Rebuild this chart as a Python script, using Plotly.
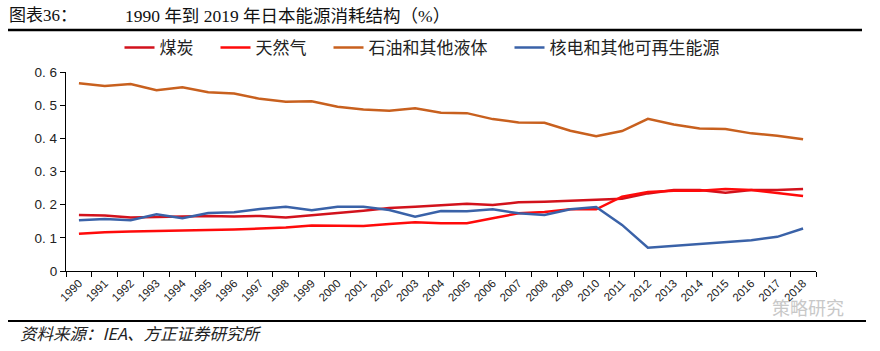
import plotly.graph_objects as go

years = [str(y) for y in range(1990, 2019)]

coal = [0.169, 0.167, 0.161, 0.162, 0.163, 0.166, 0.164, 0.166, 0.161, 0.167,
        0.175, 0.182, 0.190, 0.194, 0.198, 0.203, 0.199, 0.207, 0.209, 0.211,
        0.215, 0.218, 0.234, 0.244, 0.244, 0.236, 0.244, 0.244, 0.247]
gas = [0.112, 0.117, 0.119, 0.120, 0.121, 0.122, 0.125, 0.128, 0.131, 0.137,
       0.136, 0.136, 0.142, 0.147, 0.144, 0.144, 0.159, 0.174, 0.178, 0.186,
       0.186, 0.224, 0.238, 0.242, 0.242, 0.247, 0.244, 0.235, 0.226]
oil = [0.566, 0.558, 0.564, 0.545, 0.554, 0.539, 0.535, 0.519, 0.510, 0.512,
       0.495, 0.487, 0.483, 0.491, 0.477, 0.476, 0.458, 0.448, 0.447, 0.423,
       0.406, 0.422, 0.459, 0.442, 0.430, 0.428, 0.415, 0.408, 0.397]
nuclear = [0.153, 0.157, 0.153, 0.171, 0.159, 0.175, 0.177, 0.187, 0.194, 0.183,
           0.194, 0.194, 0.184, 0.164, 0.181, 0.180, 0.186, 0.174, 0.169, 0.186,
           0.193, 0.139, 0.070, 0.076, 0.081, 0.089, 0.093, 0.103, 0.128]

series_names = ["煤炭", "天然气", "石油和其他液体", "核电和其他可再生能源"]
series_values = [coal, gas, oil, nuclear]
series_colors = ["#D2121C", "#FF0A0A", "#C8601E", "#3A62A8"]

y_tickvals = [0, 0.1, 0.2, 0.3, 0.4, 0.5, 0.6]
y_ticktext = ["0", "0.\u00a01", "0.\u00a02", "0.\u00a03", "0.\u00a04", "0.\u00a05", "0.\u00a06"]

title_left = "图表36："
title_main = "1990 年到 2019 年日本能源消耗结构（%）"
source_text = "资料来源：IEA、方正证券研究所"

serif = "Liberation Serif, Noto Sans CJK SC, serif"
cjk = "Noto Sans CJK SC, sans-serif"

W, H = 880, 351
L, R, T, B = 66, 64, 72, 80
PW, PH = W - L - R, H - T - B


def px(x):
    return (x - L) / PW


def py(y):
    return (H - B - y) / PH


fig = go.Figure()
for i, (name, vals, col) in enumerate(zip(series_names, series_values, series_colors)):
    label = name + ("\u3000" if i < len(series_names) - 1 else "")
    fig.add_trace(go.Scatter(x=years, y=vals, name=label, mode="lines",
                             line=dict(color=col, width=2.5)))

fig.update_layout(
    width=W, height=H,
    margin=dict(l=L, r=R, t=T, b=B, autoexpand=False),
    paper_bgcolor="white", plot_bgcolor="white",
    showlegend=True,
    legend=dict(orientation="h", x=px(422), xanchor="center", y=py(48),
                yanchor="middle", font=dict(family=serif, size=17, color="#222"),
                bgcolor="rgba(0,0,0,0)", itemwidth=30, tracegroupgap=0),
    xaxis=dict(type="category", showline=True, linecolor="black", linewidth=1.3,
               ticks="outside", tickson="boundaries", ticklen=5, tickcolor="black",
               tickwidth=1.3, tickangle=-45, showgrid=False,
               tickfont=dict(family="Liberation Sans, Arial, sans-serif", size=11.5, color="#222"),
               range=[-0.5, 28.5]),
    yaxis=dict(range=[0, 0.6], tickvals=y_tickvals, ticktext=y_ticktext,
               showline=True, linecolor="black", linewidth=1.3, ticks="outside",
               ticklen=5, tickcolor="black", tickwidth=1.3, showgrid=False,
               zeroline=False,
               tickfont=dict(family="Liberation Sans, Arial, sans-serif", size=13.5, color="#222")),
)

fig.add_annotation(text=title_left, xref="paper", yref="paper", x=px(7), y=py(16),
                   xanchor="left", yanchor="middle", showarrow=False,
                   font=dict(family=serif, size=17, color="#111"))
fig.add_annotation(text=title_main, xref="paper", yref="paper", x=px(123), y=py(16),
                   xanchor="left", yanchor="middle", showarrow=False,
                   font=dict(family=serif, size=17.5, color="#111"))
fig.add_annotation(text="<i>" + source_text + "</i>", xref="paper", yref="paper", x=px(18), y=py(333),
                   xanchor="left", yanchor="middle", showarrow=False,
                   font=dict(family=cjk, size=16.5, color="#222"))
fig.add_annotation(text="策略研究", xref="paper", yref="paper", x=px(808), y=py(307),
                   xanchor="center", yanchor="middle", showarrow=False,
                   font=dict(family=cjk, size=18, color="#C8C8C8"))

fig.add_shape(type="line", xref="paper", yref="paper", x0=px(8), x1=px(862),
              y0=py(30), y1=py(30), line=dict(color="black", width=2.5))
fig.add_shape(type="line", xref="paper", yref="paper", x0=px(8), x1=px(866),
              y0=py(321), y1=py(321), line=dict(color="black", width=2))

fig.write_html("out.html")
